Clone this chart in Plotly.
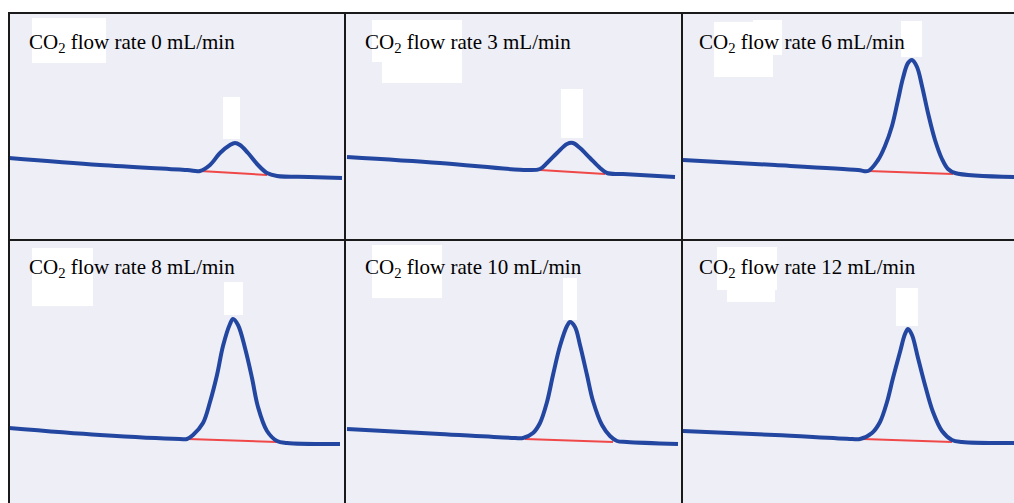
import plotly.graph_objects as go

W, H = 1014, 503

flow_rates = [0, 3, 6, 8, 10, 12]

# Chromatogram traces (x: retention position, y: detector signal)
p1_x = [0, 91, 178, 191, 201, 211, 221, 226, 231, 239, 249, 258, 268, 300, 333]
p1_y = [82, 75, 70, 69, 75, 87, 95, 97, 95, 87, 75, 67, 64, 63, 62]
p2_x = [2, 95, 182, 195, 202, 212, 222, 228, 235, 245, 255, 262, 278, 330]
p2_y = [83, 77, 70, 71, 77, 87, 96, 97, 92, 82, 72, 67, 66, 63]
p3_x = [1, 93, 176, 186, 196, 203, 210, 216, 221, 226, 230, 235, 240, 246, 253, 260, 266, 273, 332]
p3_y = [80, 75, 70, 69, 80, 94, 114, 140, 162, 177, 180, 173, 154, 127, 100, 81, 71, 67, 63]
p4_x = [0, 91, 171, 178, 184, 194, 201, 208, 214, 221, 224, 229, 236, 243, 249, 258, 268, 278, 331]
p4_y = [75, 68, 64, 64, 68, 80, 101, 128, 157, 179, 184, 178, 155, 125, 96, 72, 62, 60, 59]
p5_x = [2, 95, 170, 178, 188, 195, 202, 208, 215, 222, 225, 230, 235, 242, 248, 257, 265, 272, 282, 333]
p5_y = [74, 69, 65, 65, 70, 80, 101, 128, 157, 177, 181, 176, 158, 128, 102, 78, 67, 62, 61, 59]
p6_x = [1, 93, 170, 178, 190, 198, 205, 211, 218, 223, 226, 230, 236, 243, 251, 260, 270, 280, 332]
p6_y = [72, 68, 64, 64, 70, 81, 101, 125, 151, 169, 174, 168, 145, 118, 91, 72, 63, 61, 60]

# Integration baselines (peak start -> peak end)
red_x = [[191, 258], [195, 260], [186, 271], [179, 268], [180, 268], [181, 270]]
red_y = [[69, 65], [70, 66], [69, 66], [64, 61], [64, 61], [64, 61]]

traces_x = [p1_x, p2_x, p3_x, p4_x, p5_x, p6_x]
traces_y = [p1_y, p2_y, p3_y, p4_y, p5_y, p6_y]

# panel boxes in pixels: left, right, top, bottom
panels = [
    (9, 345, 13, 240), (345, 682, 13, 240), (682, 1014, 13, 240),
    (9, 345, 240, 503), (345, 682, 240, 503), (682, 1014, 240, 503),
]

BG = "#EDEEF6"
BLUE = "#2347A0"
RED = "#F04848"

def px(x):
    return x / W

def py(y):
    return 1 - y / H

fig = go.Figure()
layout = dict(
    width=W, height=H, margin=dict(l=0, r=0, t=0, b=0),
    paper_bgcolor="white", plot_bgcolor="rgba(0,0,0,0)",
    showlegend=False, shapes=[], annotations=[],
)

for i, (l, r, t, b) in enumerate(panels):
    n = "" if i == 0 else str(i + 1)
    xa, ya = "x" + n, "y" + n
    layout["xaxis" + n] = dict(domain=[px(l), px(r)], range=[0, r - l], visible=False,
                               anchor=ya, fixedrange=True)
    layout["yaxis" + n] = dict(domain=[py(b), py(t)], range=[0, b - t], visible=False,
                               anchor=xa, fixedrange=True)
    # panel background
    layout["shapes"].append(dict(type="rect", xref="paper", yref="paper", layer="below",
                                 x0=px(l), x1=px(r), y0=py(b), y1=py(t),
                                 fillcolor=BG, line=dict(width=0)))
    fig.add_trace(go.Scatter(x=red_x[i], y=red_y[i], mode="lines",
                             line=dict(color=RED, width=2), xaxis=xa, yaxis=ya,
                             hoverinfo="skip"))
    fig.add_trace(go.Scatter(x=traces_x[i], y=traces_y[i], mode="lines",
                             line=dict(color=BLUE, width=4, shape="spline", smoothing=1.0),
                             xaxis=xa, yaxis=ya, hoverinfo="skip"))

# white patches present in the original image
patches = [
    (32, 106, 18, 63), (223, 240, 97, 139),
    (372, 462, 20, 62), (382, 462, 62, 83), (561, 583, 89, 138),
    (714, 773, 22, 77), (753, 782, 20, 55), (901, 922, 21, 57),
    (32, 93, 248, 306), (224, 243, 282, 315),
    (372, 442, 245, 298), (563, 577, 278, 320),
    (717, 777, 247, 290), (727, 775, 290, 302), (896, 918, 288, 326),
]
for (x0, x1, y0, y1) in patches:
    layout["shapes"].append(dict(type="rect", xref="paper", yref="paper", layer="below",
                                 x0=px(x0), x1=px(x1), y0=py(y1), y1=py(y0),
                                 fillcolor="white", line=dict(width=0)))

# panel borders
border = dict(color="#1a1a1a", width=2)
for (x0, y0, x1, y1) in [(8, 13, 1014, 13), (8, 240, 1014, 240),
                         (9, 13, 9, 503), (345, 13, 345, 503), (682, 13, 682, 503)]:
    layout["shapes"].append(dict(type="line", xref="paper", yref="paper", layer="above",
                                 x0=px(x0), x1=px(x1), y0=py(y0), y1=py(y1), line=border))

label_pos = [(27, 43), (363, 43), (697, 43), (27, 268), (363, 268), (697, 268)]
for rate, (lx, ly) in zip(flow_rates, label_pos):
    layout["annotations"].append(dict(
        xref="paper", yref="paper", x=px(lx), y=py(ly), xanchor="left", yanchor="middle",
        text=f"CO<sub>2</sub> flow rate {rate} mL/min", showarrow=False,
        font=dict(family="Liberation Serif, Times New Roman, serif", size=21, color="black")))

fig.update_layout(**layout)
fig.write_html("out.html")
